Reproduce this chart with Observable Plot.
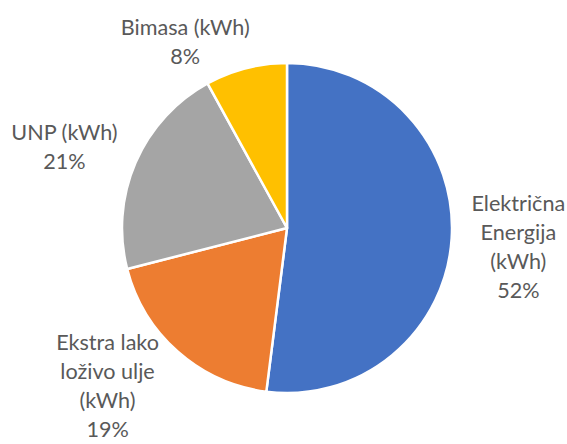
<!DOCTYPE html>
<html><head><meta charset="utf-8">
<script src="https://cdn.jsdelivr.net/npm/d3@7"></script>
<script src="https://cdn.jsdelivr.net/npm/@observablehq/plot@0.6"></script>
<style>html,body{margin:0;padding:0;background:#fff}</style>
</head><body><div id="chart"></div>
<script>
// ---- data ----
const categories = ["Električna Energija (kWh)", "Ekstra lako loživo ulje (kWh)", "UNP (kWh)", "Bimasa (kWh)"];
const labelLines = ["Električna\nEnergija\n(kWh)", "Ekstra lako\nloživo ulje\n(kWh)", "UNP (kWh)", "Bimasa (kWh)"];
const shares = [52, 19, 21, 8];
const colors = ["#4472C4", "#ED7D31", "#A5A5A5", "#FFC000"];

// ---- layout (label nudges in px, like Excel best-fit placement) ----
const labelRadius = 1.42;
const nudges = [[-3, 2], [-25, -20], [-8, 10], [-44, 39]];

const data = categories.map((c, i) => ({category: c, label: labelLines[i], value: shares[i]}));
const arcs = d3.pie().sort(null).value(d => d.value)(data);
arcs.forEach(a => {
  const mid = (a.startAngle + a.endAngle) / 2;
  a.data.lx = labelRadius * Math.sin(mid);
  a.data.ly = labelRadius * Math.cos(mid);
  a.data.text = a.data.label + "\n" + a.data.value + "%";
});

const pieMark = (index, scales, values, dimensions, context) => {
  const cx = scales.x(0), cy = scales.y(0);
  const R = scales.x(1) - scales.x(0);
  const arc = d3.arc().innerRadius(0).outerRadius(R);
  const g = d3.create("svg:g").attr("transform", `translate(${cx},${cy})`);
  g.selectAll("path").data(arcs).join("path")
    .attr("d", arc)
    .attr("fill", d => scales.color ? scales.color(d.data.category) : colors[d.index])
    .attr("stroke", "#fff")
    .attr("stroke-width", 2.5)
    .attr("stroke-linejoin", "round");
  return g.node();
};

const textMarks = data.map((d, i) => Plot.text([d], {
  x: "lx", y: "ly", text: "text",
  dx: nudges[i][0], dy: nudges[i][1],
  fill: "#595959", fontSize: 21.6, lineHeight: 1.35,
  textAnchor: "middle"
}));

const chart = Plot.plot({
  width: 567, height: 444,
  marginLeft: 122, marginRight: 115, marginTop: 63, marginBottom: 51,
  style: {fontFamily: "Lato, 'Open Sans', sans-serif", background: "#fff", overflow: "visible"},
  x: {domain: [-1, 1], axis: null},
  y: {domain: [-1, 1], axis: null},
  color: {domain: categories, range: colors},
  marks: [
    Plot.dot(data, {x: () => 0, y: () => 0, fill: "category", r: 0}),
    pieMark,
    ...textMarks
  ]
});
document.getElementById("chart").appendChild(chart);
</script>
</body></html>
